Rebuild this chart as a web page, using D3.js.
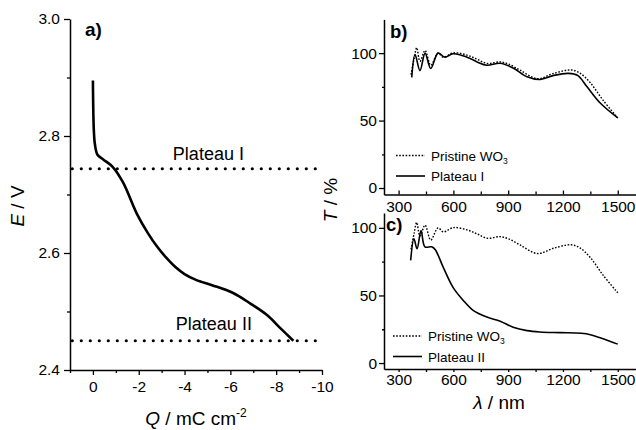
<!DOCTYPE html>
<html>
<head>
<meta charset="utf-8">
<script src="https://cdn.jsdelivr.net/npm/d3@7"></script>
<style>
  body { margin: 0; background: #fff; }
  svg text { font-family: "Liberation Sans", Arial, sans-serif; fill: #000; }
</style>
</head>
<body>
<svg id="chart" width="636" height="430"></svg>
<script>
// panel a: potential vs charge
const chargeQ = [0, -0.01, -0.04, -0.09, -0.2, -0.45, -0.87, -1.31, -1.92, -2.4, -2.8, -3.2, -3.6, -4.0, -4.5, -5.2, -6.1, -6.86, -7.6, -8.17, -8.75]
const potentialE = [2.895, 2.86, 2.81, 2.785, 2.768, 2.76, 2.747, 2.721, 2.667, 2.634, 2.611, 2.592, 2.576, 2.564, 2.554, 2.545, 2.532, 2.514, 2.494, 2.472, 2.45]
const plateauE = [2.744, 2.45]
const plateauNames = ['Plateau I', 'Plateau II']

// panels b, c: transmittance spectra
const pristineWl = [368, 385, 399, 417, 445, 476, 516, 545, 600, 675, 730, 785, 855, 900, 965, 1060, 1150, 1245, 1295, 1350, 1420, 1500]
const pristineT = [84, 96, 104, 94, 102, 91, 100, 97, 100.2, 98.5, 95.5, 92.3, 93.5, 92, 87.4, 81, 85, 87.5, 85, 78, 65, 52]
const plateau1Wl = [372, 390, 417, 445, 476, 516, 554, 598, 675, 730, 783, 856, 927, 1003, 1075, 1150, 1230, 1280, 1332, 1404, 1500]
const plateau1T = [82, 99, 87, 100, 88.6, 100, 97, 99.5, 97, 93.5, 91, 92.5, 89, 82.5, 80.5, 83.5, 85, 83.5, 75, 63, 52]
const plateau2Wl = [366, 384, 401, 423, 444, 481, 500, 544, 598, 653, 708, 783, 856, 927, 1003, 1075, 1184, 1300, 1350, 1420, 1500]
const plateau2T = [76, 92, 84.5, 98, 86, 86, 84, 71, 56, 46.5, 39, 34, 31, 26.5, 24, 23, 22.5, 22, 21, 18, 14]

// ticks
const qTicks = [0, -2, -4, -6, -8, -10]
const qMinor = [1, -1, -3, -5, -7, -9]
const eTicks = [2.4, 2.6, 2.8, 3.0]
const eMinor = [2.5, 2.7, 2.9]
const wlTicks = [300, 600, 900, 1200, 1500]
const wlMinor = [450, 750, 1050, 1350]
const tTicks = [0, 50, 100]
const tMinor = [25, 75]

const FONT = '"Liberation Sans", Arial, sans-serif'
const svg = d3.select('#chart')

svg.append('rect').attr('width', 636).attr('height', 430).attr('fill', '#fff')

// scales
const xA = d3.scaleLinear().domain([1, -10]).range([70, 322])
const yA = d3.scaleLinear().domain([2.4, 3.0]).range([370, 19])
const xS = d3.scaleLinear().domain([220, 1600]).range([384, 636])
const yB = d3.scaleLinear().domain([-4.8, 125]).range([194.5, 19.4])
const yC = d3.scaleLinear().domain([-4.4, 111]).range([369, 213])

function styleAxis(g) {
  g.attr('font-family', FONT).attr('font-size', 15.5)
  g.select('.domain').attr('stroke-width', 1.5)
  g.selectAll('.tick line').attr('stroke-width', 1.3)
  g.selectAll('.tick text').attr('fill', '#000')
}

function axisPair(x, y, gen, scale, major, minor, size, minorSize, pad, fmt) {
  const g = svg.append('g').attr('transform', `translate(${x},${y})`)
  g.call(gen(scale).tickValues(major).tickSizeInner(size).tickSizeOuter(0).tickPadding(pad).tickFormat(fmt))
  styleAxis(g)
  const m = svg.append('g').attr('transform', `translate(${x},${y})`)
  m.call(gen(scale).tickValues(minor).tickSizeInner(minorSize).tickSizeOuter(0).tickFormat(() => ''))
  m.select('.domain').remove()
  m.selectAll('.tick line').attr('stroke-width', 1.3)
  return g
}

// ---------- panel a ----------
axisPair(0, 370, d3.axisBottom, xA, qTicks, qMinor, 5, 3, 6, (d) => String(d))
axisPair(70, 0, d3.axisLeft, yA, eTicks, eMinor, 6, 3, 4, d3.format('.1f'))

svg.append('g')
  .selectAll('line')
  .data(plateauE)
  .join('line')
  .attr('x1', xA(0.9))
  .attr('x2', xA(-10))
  .attr('y1', (d) => yA(d))
  .attr('y2', (d) => yA(d))
  .attr('stroke', '#000')
  .attr('stroke-width', 3.2)
  .attr('stroke-linecap', 'round')
  .attr('stroke-dasharray', '0,9')

svg.append('g')
  .selectAll('text')
  .data(plateauE)
  .join('text')
  .attr('x', (d, i) => xA(i === 0 ? -3.49 : -3.62))
  .attr('y', (d, i) => yA(d) - (i === 0 ? 9 : 11))
  .attr('font-size', 18)
  .text((d, i) => plateauNames[i])

const lineA = d3.line()
  .x((d, i) => xA(chargeQ[i]))
  .y((d) => yA(d))
  .curve(d3.curveCatmullRom.alpha(0.5))

svg.append('path')
  .attr('d', lineA(potentialE))
  .attr('fill', 'none')
  .attr('stroke', '#000')
  .attr('stroke-width', 2.6)

svg.append('text').attr('x', 85).attr('y', 36).attr('font-size', 19).attr('font-weight', 'bold').text('a)')

const eLabel = svg.append('text')
  .attr('transform', 'translate(24,206) rotate(-90)')
  .attr('text-anchor', 'middle')
  .attr('font-size', 19)
eLabel.append('tspan').attr('font-style', 'italic').text('E')
eLabel.append('tspan').text(' / V')

const qLabel = svg.append('text')
  .attr('x', 196)
  .attr('y', 425)
  .attr('text-anchor', 'middle')
  .attr('font-size', 19)
qLabel.append('tspan').attr('font-style', 'italic').text('Q')
qLabel.append('tspan').text(' / mC cm')
qLabel.append('tspan').attr('font-size', 12).attr('dy', -8).text('-2')

// ---------- panels b and c ----------
axisPair(0, 194.5, d3.axisBottom, xS, wlTicks, wlMinor, -4, -3, 6, (d) => String(d))
axisPair(384, 0, d3.axisLeft, yB, tTicks, tMinor, 5, 2, 2, (d) => String(d))
axisPair(0, 369, d3.axisBottom, xS, wlTicks, wlMinor, 3, 3, 2, (d) => String(d))
axisPair(384, 0, d3.axisLeft, yC, tTicks, tMinor, 5, 2, 2, (d) => String(d))

function spectrum(yScale, wl, t, dashed) {
  const line = d3.line()
    .x((d, i) => xS(wl[i]))
    .y((d) => yScale(d))
    .curve(d3.curveCatmullRom.alpha(0.5))
  svg.append('path')
    .attr('d', line(t))
    .attr('fill', 'none')
    .attr('stroke', '#000')
    .attr('stroke-width', dashed ? 1.4 : 1.6)
    .attr('stroke-dasharray', dashed ? '1.6,1.6' : null)
}

spectrum(yB, plateau1Wl, plateau1T, false)
spectrum(yB, pristineWl, pristineT, true)
spectrum(yC, plateau2Wl, plateau2T, false)
spectrum(yC, pristineWl, pristineT, true)

function legendBlock(x, y, names) {
  const g = svg.append('g').attr('transform', `translate(${x},${y})`)
  names.forEach((name, i) => {
    const row = g.append('g').attr('transform', `translate(0,${i * 20.5})`)
    row.append('line')
      .attr('x1', 0).attr('x2', 29)
      .attr('stroke', '#000')
      .attr('stroke-width', i === 0 ? 1.4 : 1.6)
      .attr('stroke-dasharray', i === 0 ? '1.6,1.6' : null)
    const t = row.append('text').attr('x', 35).attr('y', 5).attr('font-size', 13.5)
    if (i === 0) {
      t.append('tspan').text('Pristine WO')
      t.append('tspan').attr('font-size', 8.5).attr('dy', 3).text('3')
    } else {
      t.text(name)
    }
  })
}

legendBlock(396, 155.5, ['Pristine WO3', plateauNames[0]])
legendBlock(393, 336, ['Pristine WO3', plateauNames[1]])

svg.append('text').attr('x', 390).attr('y', 38).attr('font-size', 18.5).attr('font-weight', 'bold').text('b)')
svg.append('text').attr('x', 386).attr('y', 231).attr('font-size', 18.5).attr('font-weight', 'bold').text('c)')

const tLabel = svg.append('text')
  .attr('transform', 'translate(337,200) rotate(-90)')
  .attr('text-anchor', 'middle')
  .attr('font-size', 19)
tLabel.append('tspan').attr('font-style', 'italic').text('T')
tLabel.append('tspan').text(' / %')

const lLabel = svg.append('text')
  .attr('x', 499)
  .attr('y', 409)
  .attr('text-anchor', 'middle')
  .attr('font-size', 19)
lLabel.append('tspan').attr('font-style', 'italic').text('λ')
lLabel.append('tspan').text(' / nm')
</script>
</body>
</html>
